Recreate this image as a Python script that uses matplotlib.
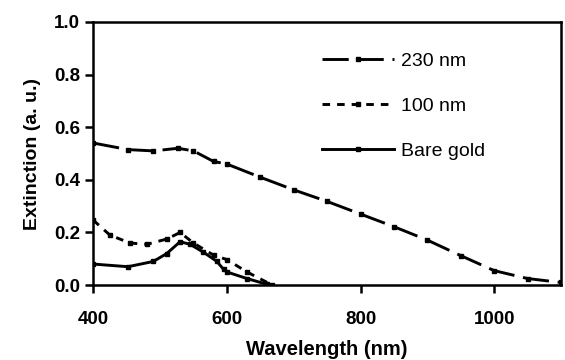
import matplotlib
matplotlib.use("Agg")
import matplotlib.pyplot as plt

plt.rcParams['font.family'] = ['Liberation Sans', 'DejaVu Sans']

wl_230 = [400, 452, 490, 527, 550, 580, 600, 650, 700, 750, 800, 850, 900, 950, 1000, 1050, 1100]
ext_230 = [0.54, 0.515, 0.51, 0.52, 0.51, 0.47, 0.46, 0.41, 0.362, 0.318, 0.27, 0.222, 0.171, 0.112, 0.055, 0.025, 0.01]

wl_100 = [400, 425, 455, 480, 510, 530, 550, 580, 600, 630, 668]
ext_100 = [0.247, 0.19, 0.16, 0.155, 0.175, 0.20, 0.16, 0.114, 0.097, 0.05, 0.0]

wl_bare = [400, 452, 490, 510, 530, 545, 565, 585, 595, 600, 630, 660]
ext_bare = [0.08, 0.07, 0.09, 0.12, 0.165, 0.155, 0.125, 0.09, 0.06, 0.05, 0.025, 0.003]

labels = ['230 nm', '100 nm', 'Bare gold']

fig = plt.figure(figsize=(5.65, 3.6), dpi=100)
ax = fig.add_axes([0.165, 0.208, 0.828, 0.731])

lw = 2.1
ms = 3.2
ax.plot(wl_230, ext_230, color='black', lw=lw, dashes=(9, 3), marker='s', ms=ms, label=labels[0])
ax.plot(wl_100, ext_100, color='black', lw=lw, dashes=(2.6, 2.4), marker='s', ms=ms, label=labels[1])
ax.plot(wl_bare, ext_bare, color='black', lw=lw, marker='s', ms=ms, label=labels[2])

ax.set_xlim(400, 1100)
ax.set_ylim(0, 1.0)
ax.set_xticks([400, 600, 800, 1000])
ax.set_yticks([0.0, 0.2, 0.4, 0.6, 0.8, 1.0])
ax.set_yticklabels(['0.0', '0.2', '0.4', '0.6', '0.8', '1.0'])

for s in ax.spines.values():
    s.set_linewidth(1.8)
ax.tick_params(direction='out', length=5.5, width=1.8, labelsize=13.5, pad=4)
ax.tick_params(axis='x', pad=13)
for t in ax.get_xticklabels() + ax.get_yticklabels():
    t.set_fontweight('bold')

ax.set_xlabel('Wavelength (nm)', fontsize=14.5, fontweight='bold', labelpad=9)
ax.set_ylabel('Extinction (a. u.)', fontsize=14, fontweight='bold', labelpad=9)

leg = ax.legend(loc='upper left', bbox_to_anchor=(0.49, 0.885), frameon=False,
                fontsize=14, handlelength=3.7, handletextpad=0.35, labelspacing=1.4,
                borderpad=0, borderaxespad=0)

fig.savefig('out.png', dpi=100)
